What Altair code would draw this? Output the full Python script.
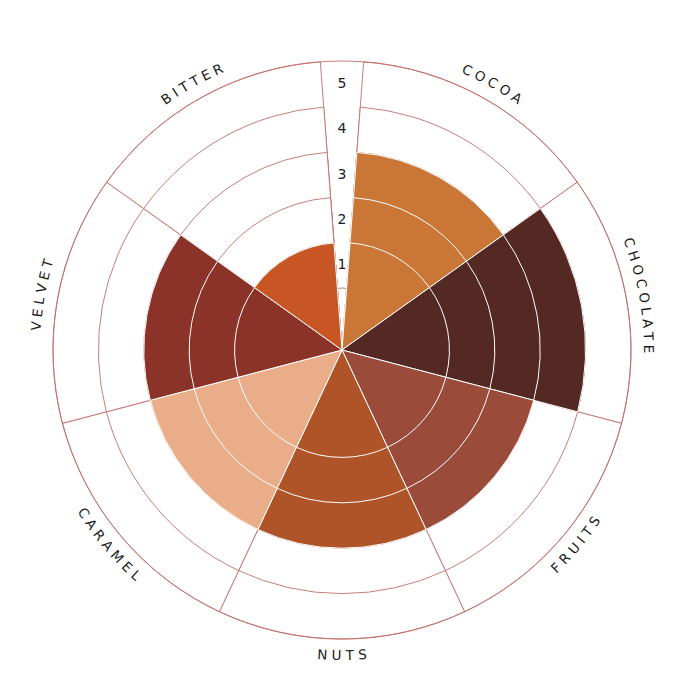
import math
import pandas as pd
import altair as alt

# flavour profile, clockwise from the top gap
categories = ["COCOA", "CHOCOLATE", "FRUITS", "NUTS", "CARAMEL", "VELVET", "BITTER"]
scores = [3, 4, 3, 3, 3, 3, 1]
colors = ["#c97636", "#542924", "#9b4b3a", "#af5428", "#e9ae89", "#8b3329", "#c85624"]
levels = [1, 2, 3, 4, 5]
tick_labels = ["1", "2", "3", "4", "5"]

grid_color = "#c07069"
text_color = "#1a1a1a"
font = "DejaVu Sans"

# angular layout: small empty wedge at the top for the scale numbers
gap_deg = 8.6
start = math.radians(gap_deg / 2)
end = math.radians(360 - gap_deg / 2)
per = (end - start) / len(categories)

theta_scale = alt.Scale(domain=[0, len(categories)], range=[start, end])
radius_scale = alt.Scale(type="linear", domain=[0, max(levels)], range=[62, 289])

# background cells (white with red outline), biggest first so smaller ones sit on top
bg_rows = []
for i, cat in enumerate(categories):
    for k in reversed(levels):
        bg_rows.append({"cat": cat, "i0": i, "i1": i + 1, "k": k})
bg = pd.DataFrame(bg_rows).sort_values("k", ascending=False, kind="stable")

# coloured wedges, one per level up to the score
fg_rows = []
for i, (cat, v) in enumerate(zip(categories, scores)):
    for k in range(v, 0, -1):
        fg_rows.append({"cat": cat, "i0": i, "i1": i + 1, "k": k})
fg = pd.DataFrame(fg_rows).sort_values("k", ascending=False, kind="stable")

# category labels, letter by letter along the outer circle
glyph_w = {"A": 1401, "B": 1405, "C": 1430, "E": 1294, "F": 1178, "H": 1540,
           "I": 604, "L": 1141, "M": 1767, "N": 1532, "O": 1612, "R": 1423,
           "S": 1300, "T": 1251, "U": 1499, "V": 1401}
font_size = 13.5
spacing = 4.2
label_r = 306

char_rows = []
for i, cat in enumerate(categories):
    mid = start + (i + 0.5) * per
    flip = math.pi / 2 < mid < 3 * math.pi / 2
    direction = -1 if flip else 1
    widths = [glyph_w[c] * font_size / 2048 for c in cat]
    total = sum(widths) + spacing * (len(cat) - 1)
    pos = -total / 2
    for ch, w in zip(cat, widths):
        t = mid + direction * (pos + w / 2) / label_r
        rot = (math.degrees(t) + (180 if flip else 0)) % 360
        char_rows.append({"ch": ch, "t": (t - start) / per, "rot": rot})
        pos += w + spacing
chars = pd.DataFrame(char_rows)

ticks = pd.DataFrame({"label": tick_labels, "pos": [l - 0.5 for l in levels]})

bg_layer = alt.Chart(bg).mark_arc(fill="white", stroke=grid_color, strokeWidth=0.9).encode(
    theta=alt.Theta("i0:Q", stack=None, scale=theta_scale),
    theta2="i1:Q",
    radius=alt.Radius("k:Q", scale=radius_scale),
    radius2=alt.value(0),
)

outer = alt.Chart(pd.DataFrame({"k": [max(levels)]})).mark_arc(
    filled=False, stroke=grid_color, strokeWidth=0.9
).encode(
    theta=alt.value(0),
    theta2=alt.value(2 * math.pi),
    radius=alt.Radius("k:Q", scale=radius_scale),
)

fg_layer = alt.Chart(fg).mark_arc(stroke="white", strokeWidth=1).encode(
    theta=alt.Theta("i0:Q", stack=None, scale=theta_scale),
    theta2="i1:Q",
    radius=alt.Radius("k:Q", scale=radius_scale),
    radius2=alt.value(0),
    color=alt.Color("cat:N", scale=alt.Scale(domain=categories, range=colors), legend=None),
)

tick_layer = alt.Chart(ticks).mark_text(
    font=font, fontSize=14, color=text_color, align="center", baseline="middle"
).encode(
    theta=alt.value(0),
    radius=alt.Radius("pos:Q", scale=radius_scale),
    text="label:N",
)

label_layer = alt.Chart(chars).mark_text(
    font=font, fontSize=font_size, color=text_color, align="center", baseline="middle",
    radius=label_r
).encode(
    theta=alt.Theta("t:Q", stack=None, scale=theta_scale),
    angle=alt.Angle("rot:Q", scale=None),
    text="ch:N",
)

chart = alt.layer(bg_layer, outer, fg_layer, tick_layer, label_layer).properties(
    width=668,
    height=668,
    padding={"left": 0, "top": 8, "right": 0, "bottom": 0},
    autosize="none",
    background="white",
).configure_view(stroke=None)

chart.save("out.html", embed_options={"renderer": "svg", "actions": False})
